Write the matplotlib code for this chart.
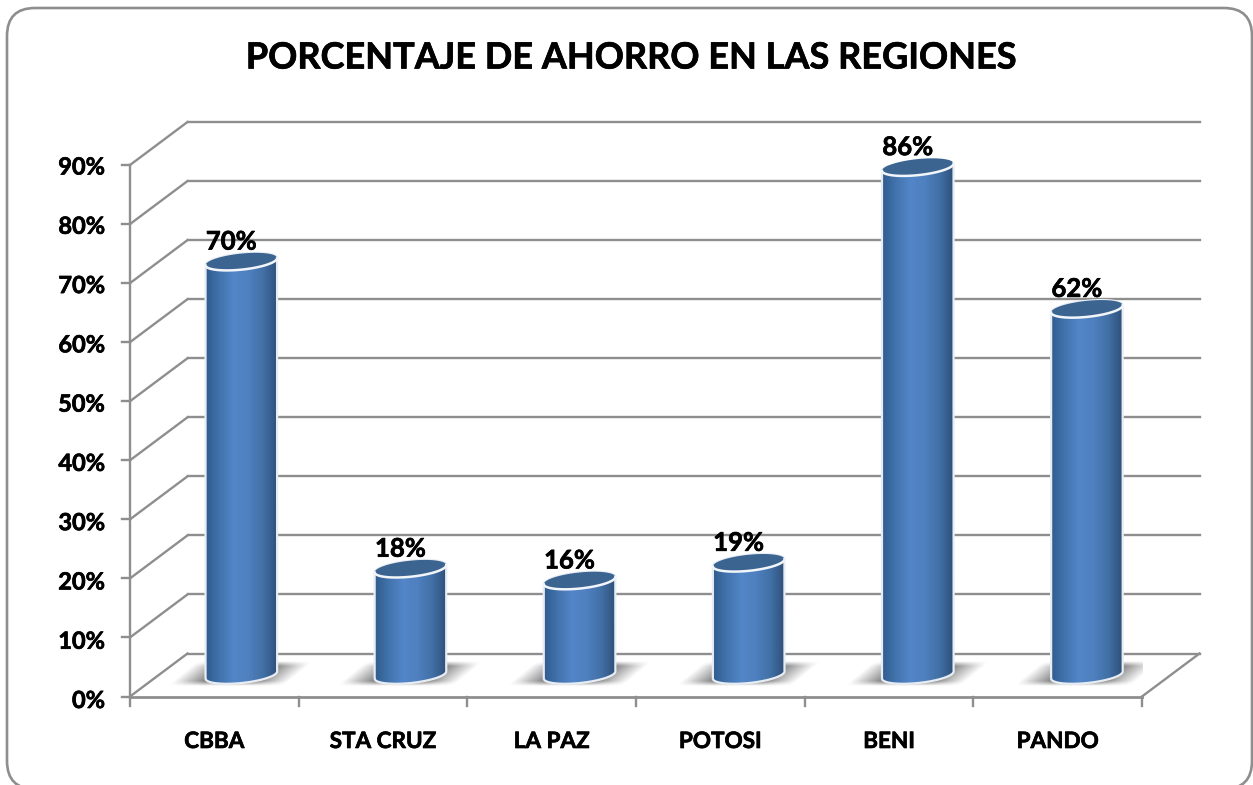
import numpy as np
import matplotlib
matplotlib.use('Agg')
import matplotlib.pyplot as plt
import matplotlib.patheffects as pe
from matplotlib.patches import FancyBboxPatch, PathPatch
from matplotlib.path import Path
from matplotlib.colors import LinearSegmentedColormap

# Data
regions = ['CBBA', 'STA CRUZ', 'LA PAZ', 'POTOSI', 'BENI', 'PANDO']
ahorro = [70, 18, 16, 19, 86, 62]
y_ticks = [0, 10, 20, 30, 40, 50, 60, 70, 80, 90]

W, H = 1253, 785
plt.rcParams['font.family'] = ['Lato', 'DejaVu Sans']
GRAY = '#8e8e8e'
# Lato bold is a bit thin next to the reference, so fatten it slightly
THICK = [pe.withStroke(linewidth=0.5, foreground='black')]

fig = plt.figure(figsize=(W / 100, H / 100), dpi=100, facecolor='white')

# Outer frame in pixel coords, runs off the bottom edge
bg = fig.add_axes([0, 0, 1, 1], zorder=0)
bg.set_xlim(0, W)
bg.set_ylim(H, 0)
bg.axis('off')
bg.add_patch(FancyBboxPatch((7, 8), 1245, 781, boxstyle='round,pad=0,rounding_size=28',
                            fc='white', ec=GRAY, lw=1.9))
bg.text(631, 58, 'PORCENTAJE DE AHORRO EN LAS REGIONES', ha='center', va='center',
        fontsize=26, fontweight='bold', color='black', path_effects=THICK)

# Chart axes = front plane of the 3D box
left, right, bottom, top = 130, 1142, 696.5, 165
ax = fig.add_axes([left / W, 1 - bottom / H, (right - left) / W, (bottom - top) / H], zorder=1)
ax.axis('off')

n = len(regions)
px_x = n / (right - left)
px_y = 90 / (bottom - top)
depth_x = 57.5 * px_x
depth_y = 43 * px_y
LW = 1.7

# Walls and grid
for t in y_ticks:
    ax.plot([0, depth_x], [t, t + depth_y], color=GRAY, lw=LW, clip_on=False, zorder=1)
    ax.plot([depth_x, n + depth_x], [t + depth_y, t + depth_y], color=GRAY, lw=LW, clip_on=False, zorder=1)
    ax.plot([-8 * px_x, 0], [t, t], color=GRAY, lw=LW, clip_on=False, zorder=1)
    ax.text(-25 * px_x, t - (2 + (90 - t) / 45) * px_y, '%d%%' % t, ha='right', va='center', fontsize=17,
            fontweight='bold', color='black', clip_on=False, path_effects=THICK)
ax.plot([0, 0], [0, 90], color=GRAY, lw=LW, clip_on=False, zorder=1)
ax.plot([0, n], [0, 0], color=GRAY, lw=LW + 0.3, clip_on=False, zorder=1)
ax.plot([n, n + depth_x], [0, depth_y], color=GRAY, lw=LW, clip_on=False, zorder=1)
for i in range(n + 1):
    ax.plot([i, i], [0, -9 * px_y], color=GRAY, lw=LW, clip_on=False, zorder=1)

cyl_cmap = LinearSegmentedColormap.from_list(
    'cyl', ['#2f5a8c', '#4273ad', '#5386c8', '#4f80bf', '#4270a6', '#2e4f78'])
grad = np.linspace(0, 1, 256).reshape(1, -1)

# soft floor shadow, skewed like the floor
sx, sy = np.meshgrid(np.linspace(-70, 70, 200), np.linspace(-12, 16, 60))
su = sx - 1.2 * (sy - 2)
sa = np.clip((58 - np.abs(su)) / 34, 0, 1) * np.clip((14 - sy) / 5, 0, 1) * np.clip((sy + 11) / 5, 0, 1)
shadow = np.zeros(sx.shape + (4,))
shadow[..., :3] = 0.42
shadow[..., 3] = sa * 0.9

half_w = 36.5 * px_x
ell_w = 72
ell_h = 16
tilt = 6


def ellipse_pts(cx, cy, a0=0, a1=2 * np.pi):
    # tilted ellipse, worked out in pixels then turned back into data units
    th = np.linspace(a0, a1, 80)
    ex = ell_w / 2 * np.cos(th)
    ey = ell_h / 2 * np.sin(th)
    r = np.radians(tilt)
    x = ex * np.cos(r) - ey * np.sin(r)
    y = ex * np.sin(r) + ey * np.cos(r)
    return cx + x * px_x, cy + y * px_y


for i, (name, v) in enumerate(zip(regions, ahorro)):
    cx = i + 0.5 + (27 + i * 0.45) * px_x
    base = 21.5 * px_y

    ax.imshow(shadow, extent=[cx - 70 * px_x, cx + 70 * px_x, base - 12 * px_y, base + 16 * px_y],
              origin='lower', aspect='auto', zorder=2)

    # body: lower front arc, then back over the top arc
    bx, by = ellipse_pts(cx, base, a0=np.pi, a1=2 * np.pi)
    tx, ty = ellipse_pts(cx, base + v, a0=0, a1=np.pi)
    verts = np.column_stack([np.concatenate([bx, tx]), np.concatenate([by, ty])])
    body = PathPatch(Path(np.vstack([verts, verts[0]])), fc='none', ec='#e8edf4', lw=1.6, zorder=4)
    ax.add_patch(body)
    im = ax.imshow(grad, extent=[cx - half_w, cx + half_w, base - 12 * px_y, base + v + 12 * px_y],
                   aspect='auto', cmap=cyl_cmap, zorder=3)
    im.set_clip_path(body)

    # top cap
    ex, ey = ellipse_pts(cx, base + v)
    ax.fill(ex, ey, fc='#3c6491', ec='none', zorder=5, clip_on=False)
    fx, fy = ellipse_pts(cx, base + v, a0=np.pi, a1=2 * np.pi)
    ax.plot(fx, fy, color='#f2f5f9', lw=1.8, zorder=6, clip_on=False)

    ax.text(cx - 10 * px_x, base + v + 20 * px_y, '%d%%' % v, ha='center', va='center', fontsize=18.5,
            fontweight='bold', color='black', zorder=7, clip_on=False, path_effects=THICK)
    ax.text(i + 0.5, -45 * px_y, name, ha='center', va='center', fontsize=16.2, fontweight='bold',
            color='black', clip_on=False, path_effects=THICK)

ax.set_xlim(0, n)
ax.set_ylim(0, 90)
plt.savefig('out.png', dpi=100)
